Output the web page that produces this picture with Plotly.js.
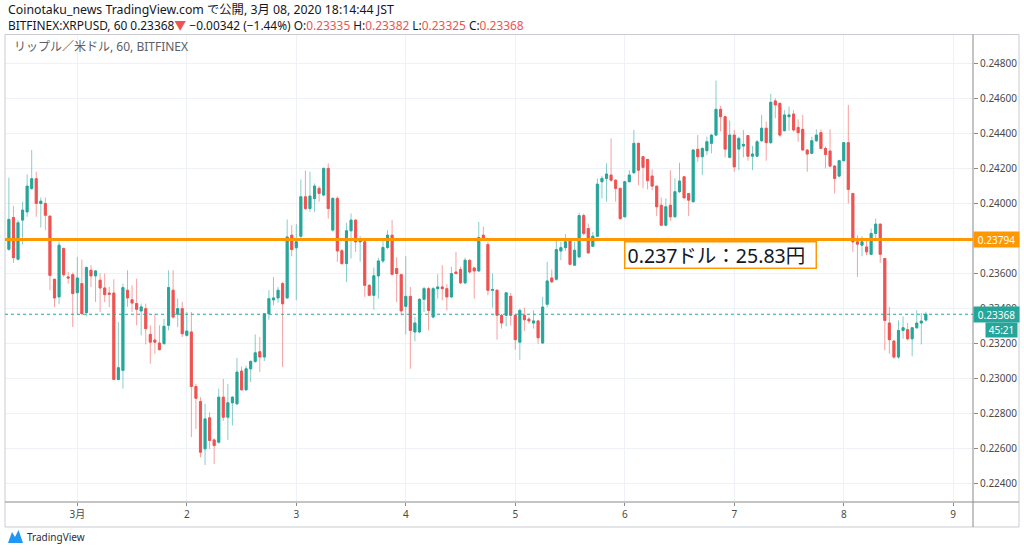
<!DOCTYPE html>
<html>
<head>
<meta charset="utf-8">
<script src="https://cdn.plot.ly/plotly-3.0.1.min.js"></script>
<style>html,body{margin:0;padding:0;background:#fff;}#chart{width:1024px;height:552px;}</style>
</head>
<body>
<div id="chart"></div>
<script>
// XRPUSD hourly candles (BITFINEX, 60), first candle 2020-02-29 09:00, last 2020-03-08 18:00
const firstCandle = '2020-02-29T09:00:00Z';
const opens = [
0.23739,0.23920,0.23682,0.23905,0.23952,0.24086,0.24141,0.24000,0.24000,0.23928,0.23568,0.23467,
0.23743,0.23581,0.23594,0.23491,0.23543,0.23377,0.23619,0.23587,0.23562,0.23518,0.23489,0.23489,
0.22996,0.23048,0.23505,0.23451,0.23429,0.23387,0.23400,0.23253,0.23221,0.23204,0.23200,0.23305,
0.23505,0.23368,0.23400,0.23248,0.23267,0.22956,0.22870,0.22600,0.22777,0.22651,0.22638,0.22895,
0.22781,0.22863,0.22857,0.23044,0.22937,0.23057,0.23099,0.23154,0.23124,0.23371,0.23450,0.23461,
0.23543,0.23461,0.23819,0.23747,0.23813,0.24038,0.23971,0.24028,0.24086,0.24048,0.24200,0.23848,
0.24029,0.23730,0.23657,0.23844,0.23905,0.23781,0.23781,0.23533,0.23476,0.23587,0.23672,0.23749,
0.23819,0.23629,0.23594,0.23413,0.23470,0.23267,0.23267,0.23453,0.23514,0.23352,0.23514,0.23524,
0.23514,0.23467,0.23609,0.23623,0.23547,0.23676,0.23632,0.23615,0.23819,0.23766,0.23505,0.23505,
0.23362,0.23362,0.23470,0.23362,0.23209,0.23362,0.23340,0.23318,0.23330,0.23204,0.23425,0.23575,
0.23568,0.23729,0.23748,0.23794,0.23648,0.23695,0.23931,0.23857,0.23756,0.23813,0.24124,0.24143,
0.24162,0.24133,0.24086,0.23924,0.24124,0.24175,0.24343,0.24267,0.24251,0.24156,0.24099,0.23990,
0.23876,0.23990,0.23924,0.24067,0.24152,0.24057,0.24010,0.24309,
0.24267,0.24301,0.24343,0.24390,0.24537,0.24495,0.24263,0.24390,0.24310,0.24328,0.24387,0.24270,
0.24270,0.24358,0.24429,0.24347,0.24585,0.24571,0.24415,0.24495,0.24510,0.24434,0.24423,0.24305,
0.24286,0.24358,0.24404,0.24314,0.24299,0.24213,0.24156,0.24244,0.24347,0.24057,0.23781,0.23762,
0.23752,0.23710,0.23829,0.23882,0.23686,0.23318,0.23215,0.23124,0.23276,0.23280,0.23228,0.23291,0.23318,0.23335
];
const highs = [
0.24147,0.23987,0.23905,0.24010,0.24166,0.24305,0.24181,0.24034,0.24034,0.23928,0.23568,0.23781,
0.23749,0.23609,0.23606,0.23695,0.23680,0.23642,0.23648,0.23619,0.23600,0.23600,0.23524,0.23568,
0.23324,0.23543,0.23619,0.23533,0.23571,0.23429,0.23429,0.23305,0.23371,0.23305,0.23343,0.23619,
0.23619,0.23457,0.23438,0.23381,0.23381,0.22971,0.22895,0.22857,0.22809,0.22660,0.22943,0.22999,
0.22971,0.22900,0.23120,0.23070,0.23075,0.23105,0.23253,0.23238,0.23375,0.23505,0.23581,0.23524,
0.23552,0.23909,0.23876,0.23882,0.24137,0.24187,0.24181,0.24114,0.24099,0.24205,0.24229,0.24035,
0.24040,0.23740,0.23890,0.23943,0.23910,0.23813,0.23790,0.23540,0.23634,0.23691,0.23794,0.23848,
0.23905,0.23695,0.23600,0.23699,0.23524,0.23352,0.23460,0.23524,0.23524,0.23524,0.23596,0.23648,
0.23540,0.23638,0.23724,0.23638,0.23691,0.23680,0.23638,0.23895,0.23867,0.23781,0.23600,0.23510,
0.23370,0.23495,0.23490,0.23370,0.23400,0.23406,0.23352,0.23390,0.23335,0.23467,0.23667,0.23623,
0.23787,0.23781,0.23825,0.23800,0.23781,0.23947,0.23943,0.23886,0.23838,0.24143,0.24156,0.24229,
0.24371,0.24137,0.24090,0.24129,0.24190,0.24419,0.24347,0.24270,0.24255,0.24194,0.24100,0.24034,
0.24029,0.24190,0.24143,0.24232,0.24156,0.24060,0.24310,0.24390,
0.24320,0.24381,0.24396,0.24701,0.24556,0.24500,0.24472,0.24419,0.24381,0.24419,0.24390,0.24328,
0.24362,0.24505,0.24467,0.24625,0.24600,0.24575,0.24533,0.24552,0.24533,0.24480,0.24505,0.24310,
0.24381,0.24423,0.24423,0.24324,0.24423,0.24220,0.24248,0.24350,0.24562,0.24060,0.23819,0.23813,
0.23790,0.23857,0.23914,0.23886,0.23690,0.23410,0.23220,0.23333,0.23356,0.23318,0.23295,0.23390,0.23375,0.23382
];
const lows = [
0.23730,0.23661,0.23675,0.23766,0.23924,0.24076,0.23924,0.23863,0.23848,0.23505,0.23409,0.23425,
0.23581,0.23543,0.23295,0.23366,0.23366,0.23356,0.23524,0.23438,0.23381,0.23438,0.23409,0.22996,
0.22990,0.22943,0.23410,0.23381,0.23305,0.23248,0.23196,0.23086,0.23143,0.23162,0.23196,0.23276,
0.23343,0.23295,0.23238,0.23240,0.22667,0.22714,0.22552,0.22508,0.22600,0.22514,0.22630,0.22760,
0.22651,0.22733,0.22853,0.22933,0.22930,0.22981,0.23090,0.23038,0.23101,0.23337,0.23419,0.23434,
0.23067,0.23457,0.23699,0.23448,0.23800,0.23962,0.23952,0.23952,0.24010,0.24040,0.23914,0.23840,
0.23667,0.23650,0.23552,0.23686,0.23724,0.23667,0.23467,0.23470,0.23394,0.23457,0.23660,0.23740,
0.23590,0.23438,0.23362,0.23253,0.23057,0.23213,0.23260,0.23381,0.23276,0.23345,0.23457,0.23448,
0.23390,0.23460,0.23595,0.23540,0.23540,0.23600,0.23457,0.23610,0.23790,0.23476,0.23406,0.23223,
0.23286,0.23299,0.23305,0.23166,0.23108,0.23272,0.23314,0.23286,0.23200,0.23200,0.23406,0.23545,
0.23560,0.23676,0.23729,0.23648,0.23645,0.23690,0.23819,0.23714,0.23752,0.23809,0.24029,0.24010,
0.24124,0.24010,0.23905,0.23920,0.24120,0.24170,0.24105,0.24086,0.24080,0.24076,0.23928,0.23870,
0.23870,0.23900,0.23920,0.24060,0.24028,0.23928,0.24005,0.24238,
0.24162,0.24276,0.24286,0.24385,0.24410,0.24263,0.24257,0.24181,0.24190,0.24263,0.24244,0.24190,
0.24265,0.24350,0.24244,0.24340,0.24486,0.24381,0.24410,0.24415,0.24410,0.24352,0.24301,0.24181,
0.24280,0.24350,0.24309,0.24200,0.24206,0.24057,0.24149,0.24240,0.24000,0.23724,0.23581,0.23699,
0.23705,0.23705,0.23790,0.23661,0.23162,0.23143,0.23115,0.23114,0.23228,0.23220,0.23128,0.23285,0.23196,0.23325
];
const closes = [
0.23909,0.23691,0.23890,0.23962,0.24099,0.24141,0.24000,0.24013,0.23933,0.23590,0.23461,0.23762,
0.23594,0.23575,0.23486,0.23575,0.23371,0.23634,0.23587,0.23615,0.23518,0.23480,0.23482,0.22996,
0.23063,0.23520,0.23461,0.23432,0.23396,0.23410,0.23286,0.23209,0.23209,0.23166,0.23299,0.23520,
0.23352,0.23400,0.23257,0.23272,0.22956,0.22889,0.22581,0.22771,0.22648,0.22619,0.22895,0.22781,
0.22863,0.22895,0.23038,0.22937,0.23057,0.23099,0.23148,0.23124,0.23371,0.23457,0.23461,0.23505,
0.23428,0.23809,0.23737,0.23781,0.24038,0.23971,0.24042,0.24099,0.24057,0.24200,0.23971,0.24029,
0.23729,0.23657,0.23844,0.23905,0.23781,0.23790,0.23533,0.23476,0.23587,0.23672,0.23749,0.23819,
0.23596,0.23600,0.23387,0.23470,0.23276,0.23318,0.23453,0.23514,0.23390,0.23514,0.23524,0.23514,
0.23467,0.23600,0.23600,0.23547,0.23676,0.23609,0.23615,0.23806,0.23794,0.23505,0.23509,0.23362,
0.23318,0.23490,0.23362,0.23223,0.23390,0.23337,0.23330,0.23330,0.23234,0.23409,0.23558,0.23553,
0.23737,0.23748,0.23781,0.23653,0.23733,0.23931,0.23829,0.23718,0.23813,0.24110,0.24143,0.24168,
0.24133,0.24086,0.23914,0.24124,0.24162,0.24343,0.24190,0.24206,0.24130,0.24099,0.23981,0.23876,
0.23981,0.23924,0.24067,0.24128,0.24032,0.24019,0.24305,0.24267,
0.24314,0.24352,0.24390,0.24537,0.24495,0.24310,0.24390,0.24209,0.24371,0.24337,0.24270,0.24282,
0.24352,0.24429,0.24347,0.24577,0.24562,0.24390,0.24505,0.24505,0.24419,0.24404,0.24305,0.24282,
0.24358,0.24390,0.24314,0.24280,0.24213,0.24143,0.24244,0.24347,0.24080,0.23781,0.23768,0.23781,
0.23724,0.23829,0.23882,0.23710,0.23333,0.23223,0.23124,0.23276,0.23291,0.23228,0.23291,0.23318,0.23329,0.23368
];
const dayTicks = ['2020-03-01','2020-03-02','2020-03-03','2020-03-04','2020-03-05','2020-03-06','2020-03-07','2020-03-08','2020-03-09'];
const dayLabels = ['3月','2','3','4','5','6','7','8','9'];
const priceTicks = [0.224,0.226,0.228,0.230,0.232,0.234,0.236,0.238,0.240,0.242,0.244,0.246,0.248];
const levelPrice = 0.23794;
const lastPrice = 0.23368;
const countdown = '45:21';
const noteText = '0.237ドル：25.83円';
const noteTime = '2020-03-06 00:00';

// hourly timestamps for the candles
const t0 = Date.parse(firstCandle);
const times = opens.map((_, i) => new Date(t0 + i * 3600000).toISOString().slice(0, 16).replace('T', ' '));
const bodyHigh = opens.map((o, i) => Math.max(o, closes[i]));
const bodyLow = opens.map((o, i) => Math.min(o, closes[i]));

const UP = '#26a69a', DN = '#ef5350';
const wicks = {
  type: 'candlestick', x: times, open: opens, high: highs, low: lows, close: closes,
  increasing: {line: {color: 'rgba(38,166,154,0.55)', width: 1}, fillcolor: 'rgba(38,166,154,0.55)'},
  decreasing: {line: {color: 'rgba(239,83,80,0.55)', width: 1}, fillcolor: 'rgba(239,83,80,0.55)'},
  hoverinfo: 'skip', showlegend: false
};
const bodies = {
  type: 'candlestick', x: times, open: opens, high: bodyHigh, low: bodyLow, close: closes,
  increasing: {line: {color: UP, width: 0.8}, fillcolor: UP},
  decreasing: {line: {color: DN, width: 0.8}, fillcolor: DN},
  hoverinfo: 'skip', showlegend: false
};

// pixel helpers for frame drawn in paper coordinates (plot area x 5..973, y 35..502)
const PX = X => (X - 5) / 968;
const PY = Y => (502 - Y) / 467;

const FONT = 'Noto Sans, "Noto Sans CJK JP", sans-serif';
const RED = '#ef5350';

// price label hidden under the orange level tag in the reference
const tickText = priceTicks.map(v => (Math.abs(v - 0.238) < 1e-9 ? '' : v.toFixed(5)));

const layout = {
  width: 1024, height: 552,
  margin: {l: 5, r: 51, t: 35, b: 50, pad: 0},
  paper_bgcolor: '#ffffff', plot_bgcolor: '#ffffff',
  font: {family: FONT, color: '#4a4a4a', size: 10},
  showlegend: false,
  boxgap: 0.35,
  xaxis: {
    type: 'date', range: ['2020-02-29 08:09', '2020-03-09 04:20'],
    rangeslider: {visible: false},
    tickmode: 'array', tickvals: dayTicks, ticktext: dayLabels,
    showgrid: true, gridcolor: '#eef1f6', gridwidth: 1,
    ticks: 'outside', ticklen: 3, tickcolor: '#8a8a8a',
    tickfont: {size: 10, color: '#4a4a4a'},
    showline: false, zeroline: false, fixedrange: true
  },
  yaxis: {
    side: 'right', range: [0.22297, 0.24961],
    tickmode: 'array', tickvals: priceTicks, ticktext: tickText,
    showgrid: true, gridcolor: '#eef1f6', gridwidth: 1,
    ticks: 'outside', ticklen: 4, tickcolor: '#8a8a8a',
    tickfont: {size: 10, color: '#4a4a4a'},
    showline: false, zeroline: false, fixedrange: true
  },
  shapes: [
    {type: 'rect', xref: 'paper', yref: 'paper', x0: 0, x1: PX(1019), y0: PY(527), y1: PY(34.5),
     line: {color: '#c9cbd1', width: 1}, fillcolor: 'rgba(0,0,0,0)', layer: 'above'},
    {type: 'line', xref: 'paper', yref: 'paper', x0: 1, x1: 1, y0: PY(527), y1: PY(34.5),
     line: {color: '#8a8a8a', width: 1}, layer: 'above'},
    {type: 'line', xref: 'paper', yref: 'paper', x0: 0, x1: PX(1019), y0: 0, y1: 0,
     line: {color: '#8a8a8a', width: 1}, layer: 'above'},
    {type: 'line', xref: 'paper', yref: 'y', x0: 0, x1: 1, y0: lastPrice, y1: lastPrice,
     line: {color: UP, width: 1, dash: 'dot'}, layer: 'above'},
    {type: 'line', xref: 'paper', yref: 'y', x0: 0, x1: 1, y0: levelPrice, y1: levelPrice,
     line: {color: '#ff9800', width: 3}, layer: 'above'},
    {type: 'path', xref: 'paper', yref: 'paper',
     path: `M ${PX(8)} ${PY(543)} L ${PX(12)} ${PY(532)} L ${PX(15)} ${PY(537)} L ${PX(18.5)} ${PY(530)} L ${PX(23)} ${PY(543)} Z`,
     fillcolor: '#2196f3', line: {width: 0}}
  ],
  annotations: [
    {xref: 'paper', yref: 'paper', x: PX(6), y: PY(9.5), xanchor: 'left', yanchor: 'middle', showarrow: false,
     text: 'Coinotaku_news TradingView.com で公開, 3月 08, 2020 18:14:44 JST', font: {size: 12.3, color: '#131722'}},
    {xref: 'paper', yref: 'paper', x: PX(6), y: PY(24.5), xanchor: 'left', yanchor: 'middle', showarrow: false,
     text: 'BITFINEX:XRPUSD, 60 0.23368<span style="color:' + RED + '">▼</span> −0.00342 (−1.44%) O:<span style="color:' + RED + '">0.23335</span> H:<span style="color:' + RED + '">0.23382</span> L:<span style="color:' + RED + '">0.23325</span> C:<span style="color:' + RED + '">0.23368</span>',
     font: {size: 11.9, color: '#131722'}},
    {xref: 'paper', yref: 'paper', x: PX(12), y: PY(47), xanchor: 'left', yanchor: 'middle', showarrow: false,
     text: 'リップル／米ドル, 60, BITFINEX', font: {size: 12, color: '#5d606b'}},
    {xref: 'x', yref: 'y', x: noteTime, y: levelPrice, xanchor: 'left', yanchor: 'top', xshift: -1, yshift: -1.5, showarrow: false,
     text: noteText, width: 186, height: 21, align: 'left', font: {size: 19.5, color: '#131722'},
     bgcolor: '#ffffff', bordercolor: '#ff9800', borderwidth: 1.5, borderpad: 2},
    {xref: 'paper', yref: 'y', x: 1, y: levelPrice, xanchor: 'left', yanchor: 'middle', showarrow: false,
     text: levelPrice.toFixed(5), width: 41, height: 11, borderpad: 2, bgcolor: '#ff9800', font: {size: 10, color: '#ffffff'}},
    {xref: 'paper', yref: 'y', x: 1, y: lastPrice, xanchor: 'left', yanchor: 'middle', showarrow: false,
     text: lastPrice.toFixed(5), width: 41, height: 11, borderpad: 2, bgcolor: UP, font: {size: 10, color: '#ffffff'}},
    {xref: 'paper', yref: 'y', x: PX(1018), y: lastPrice, xanchor: 'right', yanchor: 'top', yshift: -8, showarrow: false,
     text: countdown, width: 27, height: 10, borderpad: 2, bgcolor: UP, font: {size: 10, color: '#ffffff'}},
    {xref: 'paper', yref: 'paper', x: PX(25), y: PY(537), xanchor: 'left', yanchor: 'middle', showarrow: false,
     text: 'TradingView', font: {size: 10, color: '#2a2e39'}}
  ]
};

Plotly.newPlot('chart', [wicks, bodies], layout, {staticPlot: true, displayModeBar: false});
</script>
</body>
</html>
